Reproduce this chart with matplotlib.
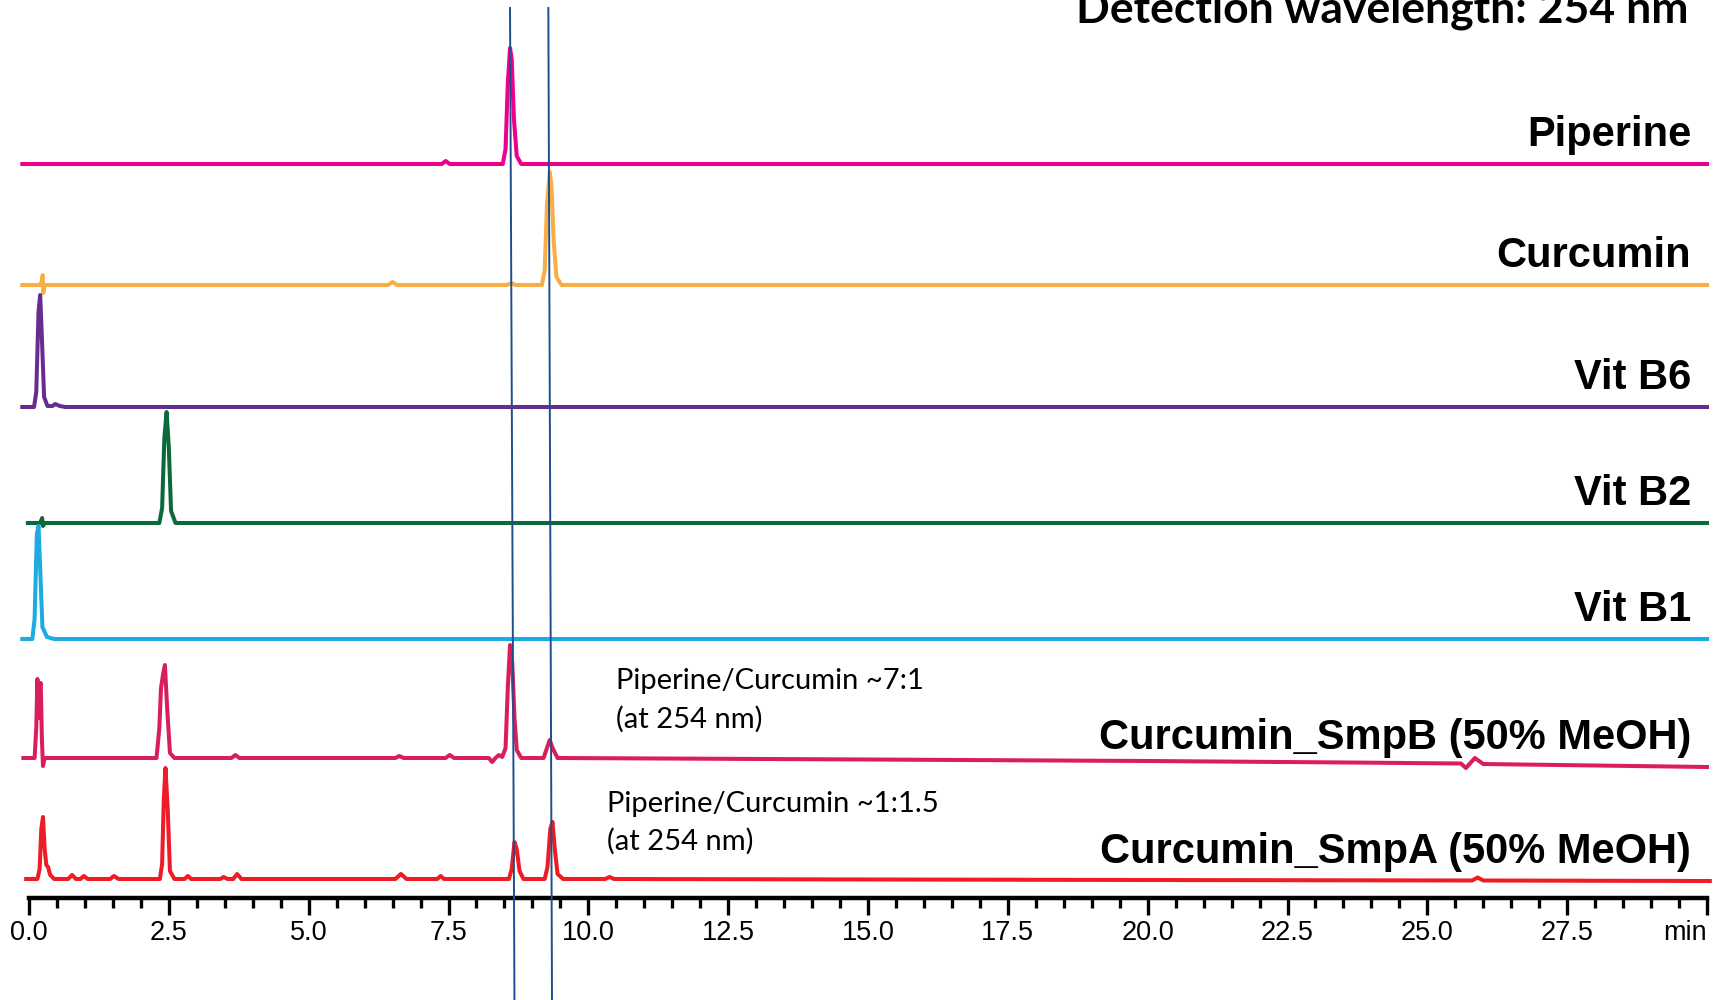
import matplotlib
matplotlib.use("Agg")
import matplotlib.pyplot as plt
from matplotlib.ticker import MultipleLocator

# retention time (min) / detector signal pairs
piperine = [(-0.12, 0), (7.38, 0), (7.45, 3), (7.52, 0), (8.47, 0), (8.52, 15), (8.56, 80),
            (8.60, 116), (8.63, 105), (8.67, 45), (8.72, 8), (8.80, 0), (30.0, 0)]
curcumin = [(-0.12, 0), (0.20, 0), (0.23, 4), (0.245, 10), (0.255, -8), (0.28, 0), (6.42, 0),
            (6.50, 3), (6.58, 0), (8.55, 0), (8.62, 2), (8.70, 0), (9.17, 0), (9.22, 15),
            (9.26, 80), (9.31, 113), (9.34, 100), (9.38, 45), (9.43, 8), (9.52, 0), (30.0, 0)]
vit_b6 = [(-0.12, 0), (0.09, 0), (0.13, 15), (0.17, 95), (0.20, 112), (0.23, 70), (0.27, 10),
          (0.33, 1), (0.42, 1), (0.47, 3), (0.55, 1), (0.65, 0), (30.0, 0)]
vit_b2 = [(-0.02, 0), (0.20, 0), (0.235, 5), (0.25, -3), (0.28, 0), (2.33, 0), (2.38, 15),
          (2.42, 85), (2.46, 111), (2.50, 75), (2.54, 12), (2.62, 0), (30.0, 0)]
vit_b1 = [(-0.12, 0), (0.06, 0), (0.10, 20), (0.14, 105), (0.17, 113), (0.20, 70), (0.24, 12),
          (0.32, 2), (0.45, 0), (30.0, 0)]
smp_b = [(-0.1, 0), (0.10, 0), (0.13, 30), (0.15, 79), (0.17, 40), (0.19, 72), (0.21, 75),
         (0.23, 20), (0.25, -8), (0.28, 0), (0.35, 0), (2.28, 0), (2.33, 30), (2.36, 70),
         (2.40, 85), (2.43, 93), (2.47, 50), (2.52, 5), (2.60, 0), (3.62, 0), (3.69, 3),
         (3.76, 0), (6.55, 0), (6.62, 2), (6.70, 0), (7.45, 0), (7.52, 3), (7.60, 0),
         (8.22, 0), (8.28, -4), (8.34, 0), (8.40, 3), (8.46, 1), (8.52, 10), (8.56, 70),
         (8.60, 113), (8.64, 95), (8.68, 40), (8.72, 8), (8.80, 0), (9.20, 0), (9.26, 10),
         (9.31, 18), (9.36, 10), (9.45, 0), (15.0, -1.5), (20.0, -3), (23.6, -4.5),
         (25.6, -5.5), (25.69, -10), (25.85, 0), (26.0, -6), (30.0, -9)]
smp_a = [(-0.05, 0), (0.15, 0), (0.19, 10), (0.22, 50), (0.25, 62), (0.28, 30), (0.31, 14),
         (0.34, 12), (0.38, 4), (0.45, 0), (0.70, 0), (0.77, 4), (0.84, 0), (0.92, 0),
         (0.98, 3), (1.05, 0), (1.45, 0), (1.52, 3), (1.60, 0), (2.34, 0), (2.38, 15),
         (2.41, 80), (2.44, 111), (2.48, 70), (2.52, 8), (2.60, 0), (2.78, 0), (2.84, 3),
         (2.90, 0), (3.42, 0), (3.48, 2), (3.55, 0), (3.65, 0), (3.72, 5), (3.80, 0),
         (6.55, 0), (6.65, 5), (6.75, 0), (7.30, 0), (7.36, 3), (7.42, 0), (8.58, 0),
         (8.63, 10), (8.68, 37), (8.72, 30), (8.77, 8), (8.84, 0), (9.22, 0), (9.27, 12),
         (9.32, 50), (9.36, 57), (9.40, 30), (9.45, 5), (9.55, 0), (10.30, 0), (10.38, 2),
         (10.46, 0), (20.0, -1), (25.8, -1.5), (25.9, 1.5), (26.0, -1.5), (30.05, -2)]

traces = [piperine, curcumin, vit_b6, vit_b2, vit_b1, smp_b, smp_a]
names = ["Piperine", "Curcumin", "Vit B6", "Vit B2", "Vit B1",
         "Curcumin_SmpB (50% MeOH)", "Curcumin_SmpA (50% MeOH)"]
colors = ["#EC008C", "#F9AE45", "#662D91", "#0B6A3B", "#1EAAE2", "#D81E5B", "#EE1C25"]
# marker lines at the piperine / curcumin retention times (top, bottom)
marker_times = [(8.60, 8.68), (9.285, 9.351)]
notes = [["Piperine/Curcumin ~7:1", "(at 254 nm)"],
         ["Piperine/Curcumin ~1:1.5", "(at 254 nm)"]]
tick_pos = [0.0, 2.5, 5.0, 7.5, 10.0, 12.5, 15.0, 17.5, 20.0, 22.5, 25.0, 27.5, 30.0]
tick_labels = ["0.0", "2.5", "5.0", "7.5", "10.0", "12.5", "15.0", "17.5",
               "20.0", "22.5", "25.0", "27.5", "min"]

# layout in pixels (figure 1727 x 1000)
W, H = 1727, 1000
axis_y = 898
offsets = [734, 613, 491, 375, 259, 140, 19]

fig = plt.figure(figsize=(W / 100, H / 100), dpi=100)
ax = fig.add_axes([29 / W, (H - axis_y) / H, 1678 / W, axis_y / H])
ax.set_xlim(0, 30)
ax.set_ylim(0, axis_y)

for pts, off, col in zip(traces, offsets, colors):
    t = [p[0] for p in pts]
    y = [p[1] + off for p in pts]
    ax.plot(t, y, color=col, lw=2.9, solid_joinstyle="round", clip_on=False)

for pts, off, name in zip(traces, offsets, names):
    ax.text(29.715, off + pts[-1][1] + 18, name, ha="right", va="baseline",
            fontsize=30, fontweight="bold", family=["Liberation Sans", "DejaVu Sans"])

for top, bottom in marker_times:
    ax.plot([top, bottom], [axis_y - 8, -110], color="#1F4E8C", lw=1.4, clip_on=False, zorder=5)

for spine in ["top", "left", "right"]:
    ax.spines[spine].set_visible(False)
ax.spines["bottom"].set_linewidth(3.2)
ax.set_yticks([])
ax.set_xticks(tick_pos)
ax.set_xticklabels(tick_labels, family=["Liberation Sans", "DejaVu Sans"], fontsize=19.5)
ax.get_xticklabels()[-1].set_horizontalalignment("right")
ax.get_xticklabels()[-1].set_x(30.0)
ax.xaxis.set_minor_locator(MultipleLocator(0.5))
ax.tick_params(axis="x", which="major", length=12, width=2.4, pad=3.5)
ax.tick_params(axis="x", which="minor", length=7.5, width=2.4)

fig.text(1688 / W, (H - 22) / H, "Detection wavelength: 254 nm", ha="right", va="baseline",
         fontsize=32, fontweight="bold", family=["Lato", "DejaVu Sans"])

note_pos = [(616, [689, 728]), (607, [812, 850])]
for lines, (nx, ys) in zip(notes, note_pos):
    for line, ny in zip(lines, ys):
        fig.text(nx / W, (H - ny) / H, line, ha="left", va="baseline",
                 fontsize=21, family=["Lato", "DejaVu Sans"])

fig.savefig("out.png", dpi=100)
